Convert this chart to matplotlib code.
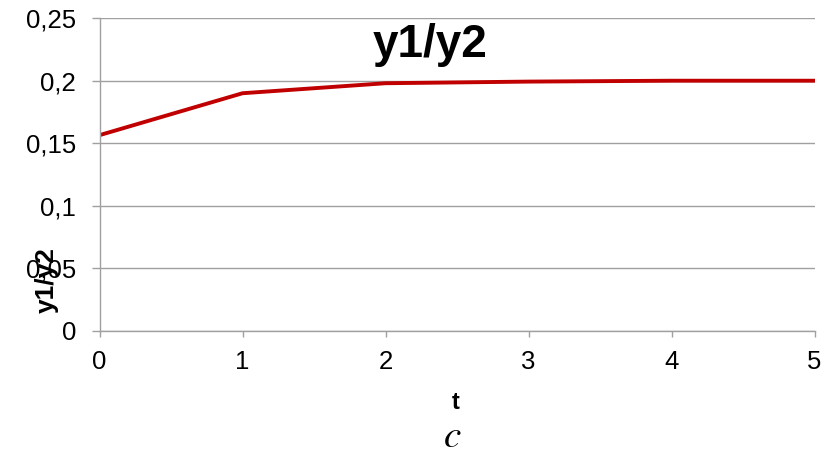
import matplotlib
matplotlib.use("Agg")
import matplotlib.pyplot as plt
from matplotlib.ticker import FuncFormatter

plt.rcParams['font.family'] = ['Liberation Sans', 'DejaVu Sans']
plt.rcParams['mathtext.fontset'] = 'stix'

t = [0, 1, 2, 3, 4, 5]
ratio = [0.1565, 0.190, 0.198, 0.1993, 0.2, 0.2]
yticks = [0, 0.05, 0.1, 0.15, 0.2, 0.25]

fig = plt.figure(figsize=(8.32, 4.54), dpi=100)
ax = fig.add_axes([0.1196, 0.271, 0.8594, 0.689])

grid_c = '#a0a0a0'
ax.plot(t, ratio, color='#c00000', lw=2.8, solid_joinstyle='miter')

ax.set_xlim(0, 5)
ax.set_ylim(0, 0.25)
ax.set_xticks(t)
ax.set_yticks(yticks)
ax.yaxis.set_major_formatter(FuncFormatter(lambda v, p: ('%g' % v).replace('.', ',')))
ax.grid(axis='y', color=grid_c, lw=1)
ax.set_axisbelow(True)

for s in ['top', 'right']:
    ax.spines[s].set_visible(False)
for s in ['left', 'bottom']:
    ax.spines[s].set_color(grid_c)
    ax.spines[s].set_linewidth(1)

ax.tick_params(axis='y', direction='out', length=6, width=1, color=grid_c,
               labelsize=18.5, pad=11)
ax.tick_params(axis='x', direction='out', length=4.5, width=1, color=grid_c,
               labelsize=18.5, pad=9)

ax.text(0.463, 0.875, 'y1/y2', transform=ax.transAxes, fontsize=33,
        fontweight='bold', ha='center', va='baseline')

fig.text(0.056, 0.383, 'y1/y2', rotation=90, fontsize=19, fontweight='bold',
         ha='center', va='center')
fig.text(0.548, 0.113, 't', fontsize=17, fontweight='bold', ha='center', va='center')
fig.text(0.543, 0.016, '$c$', fontsize=28, ha='center', va='baseline')

fig.savefig('out.png', dpi=100)
